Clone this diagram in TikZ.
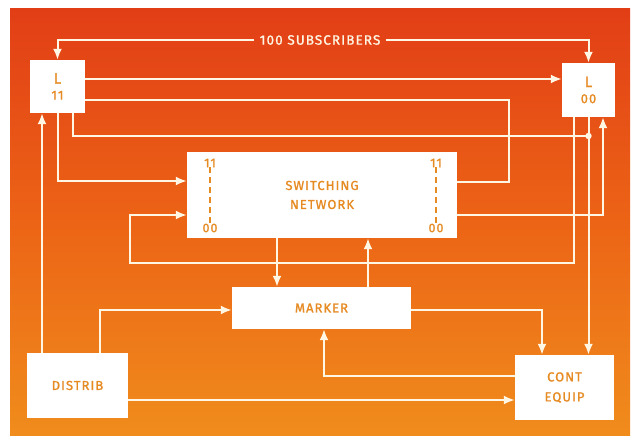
\documentclass[tikz,border=0pt]{standalone}
\usepackage{fontspec}
\setmainfont{Fira Sans}[LetterSpace=8, FakeBold=1.2]
\usetikzlibrary{arrows.meta}
\definecolor{ln}{RGB}{255,247,228}
\definecolor{tx}{RGB}{230,138,34}
\definecolor{bgtop}{RGB}{226,62,22}
\definecolor{bgmid}{RGB}{236,100,22}
\definecolor{bgbot}{RGB}{240,140,28}
\tikzset{
  box/.style={fill=white, draw=none, inner sep=0pt, text=tx, font=\fontsize{13}{17}\selectfont, align=center},
  conn/.style={draw=ln, line width=2pt},
  arr/.style={conn, -{Latex[length=11pt,width=9pt]}},
  dsh/.style={draw=tx, line width=1.6pt, dash pattern=on 6pt off 4pt},
  num/.style={text=tx, font=\fontsize{12.5}{13}\selectfont, inner sep=0pt}
}
\begin{document}
\begin{tikzpicture}[x=1pt,y=-1pt]
\useasboundingbox (0,0) rectangle (632,438);
\fill[white] (0,0) rectangle (632,438);
\shade[top color=bgtop, bottom color=bgbot, middle color=bgmid] (10,9) rectangle (630,435);

% boxes
\node[box, minimum width=55pt, minimum height=53pt] (L11) at (57.5,86.5) {\fontsize{15}{18}\selectfont L\\[-1pt]\fontsize{13}{14}\selectfont 11};
\node[box, minimum width=53pt, minimum height=54pt] (L00) at (588.5,90) {\fontsize{15}{18}\selectfont L\\[-1pt]\fontsize{13}{14}\selectfont 00};
\node[box, minimum width=270pt, minimum height=86pt] (net) at (322,195) {SWITCHING\\[2pt]NETWORK};
\node[box, minimum width=179pt, minimum height=42pt] (mark) at (321.5,308) {MARKER};
\node[box, minimum width=101pt, minimum height=65pt] (dist) at (77.5,385.5) {DISTRIB};
\node[box, minimum width=99pt, minimum height=65pt] (cont) at (564.5,387.5) {CONT\\[3pt]EQUIP};

% labels inside switching network
\node[num] (a11) at (210,163) {11};
\node[num] (a00) at (210,228) {00};
\node[num] (b11) at (436,163) {11};
\node[num] (b00) at (436,228) {00};
\draw[dsh] (a11.south) -- (a00.north);
\draw[dsh] (b11.south) -- (b00.north);

% subscribers
\node[text=ln, font=\fontsize{13.5}{15}\selectfont, inner sep=5pt] (sub) at (320,40) {100 SUBSCRIBERS};
\draw[arr] (sub.west) -| (L11.north);
\draw[arr] (sub.east) -| (L00.north);

% L11 -> L00
\draw[arr] (L11.east |- 0,79) -- (L00.west |- 0,79);
% L11 <-> network right upper
\draw[conn] (L11.east |- 0,100) -- (509,100) -- (509,182) -- (net.east |- 0,182);
% L11 bottom to junction
\coordinate (junc) at (588.5,136);
\draw[conn] (L11.south -| 73,0) |- (junc);
\fill[ln] (junc) circle (3.2pt);
% L11 -> network left upper
\draw[arr] (L11.south) |- (net.west |- 0,181);
% DISTRIB -> L11
\draw[arr] (dist.north -| 42,0) -- (L11.south -| 42,0);
% L00 -> network left lower
\draw[arr] (L00.south -| 574,0) -- (574,263) -- (130,263) -- (130,215) -- (net.west |- 0,215);
% network right lower -> L00
\draw[arr] (net.east |- 0,215) -| (L00.south -| 603,0);
% L00 -> CONT EQUIP
\draw[arr] (L00.south) -- (L00.south |- cont.north);
% network <-> marker
\draw[arr] (net.south -| 277,0) -- (mark.north -| 277,0);
\draw[arr] (mark.north -| 368,0) -- (net.south -| 368,0);
% DISTRIB -> marker
\draw[arr] (dist.north -| 100,0) |- (mark.west |- 0,310);
% marker -> CONT EQUIP
\draw[arr] (mark.east |- 0,310) -| (cont.north -| 542,0);
% CONT EQUIP -> marker
\draw[arr] (cont.west |- 0,376) -| (mark.south -| 324,0);
% DISTRIB -> CONT EQUIP
\draw[arr] (dist.east |- 0,400) -- (cont.west |- 0,400);
\end{tikzpicture}
\end{document}
